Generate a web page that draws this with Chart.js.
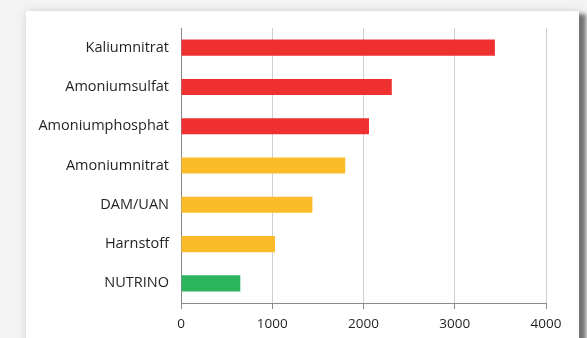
<!DOCTYPE html>
<html>
<head>
<meta charset="utf-8">
<script src="https://cdn.jsdelivr.net/npm/chart.js@4/dist/chart.umd.min.js"></script>
<style>
  html, body { margin: 0; padding: 0; }
  body { width: 587px; height: 338px; background: #f3f3f3; position: relative; overflow: hidden; }
  #card {
    position: absolute; left: 26px; top: 11px; width: 553px; height: 340px;
    background: #fff;
    box-shadow: 0 0 8px rgba(0,0,0,0.13), 7px 3px 4px rgba(0,0,0,0.5);
  }
  #chart { position: absolute; left: 0; top: 0; }
</style>
</head>
<body>
<div id="card"></div>
<canvas id="chart" width="587" height="338"></canvas>
<script>
const products = ['Kaliumnitrat', 'Amoniumsulfat', 'Amoniumphosphat', 'Amoniumnitrat', 'DAM/UAN', 'Harnstoff', 'NUTRINO']
const values = [3440, 2310, 2060, 1800, 1440, 1030, 650]
const barColors = ['#ef3030', '#ef3030', '#ef3030', '#fcbb28', '#fcbb28', '#fcbb28', '#2db45f']
const xTicks = [0, 1000, 2000, 3000, 4000]

const catFont = { family: '"Open Sans", sans-serif', size: 14.5 }
const tickFont = { family: '"Open Sans", sans-serif', size: 13.5 }

new Chart(document.getElementById('chart'), {
  type: 'bar',
  data: {
    labels: products,
    datasets: [{ data: values, backgroundColor: barColors, barPercentage: 0.41, categoryPercentage: 1 }],
  },
  options: {
    indexAxis: 'y',
    responsive: false,
    animation: false,
    devicePixelRatio: 1,
    layout: { padding: { left: 0, right: 41, top: 28, bottom: 0 } },
    plugins: { legend: { display: false }, tooltip: { enabled: false } },
    scales: {
      x: {
        min: 0, max: 4000,
        afterBuildTicks: s => { s.ticks = xTicks.map(v => ({ value: v })) },
        afterFit: s => { s.height = 35 },
        grid: { color: '#cfcfcf', lineWidth: 1, drawTicks: true, tickLength: 6, tickColor: '#8a8a8a' },
        border: { color: '#8a8a8a', width: 1 },
        ticks: { color: '#231f20', font: tickFont, padding: 7, maxRotation: 0, callback: v => String(v) },
      },
      y: {
        afterFit: s => { s.width = 181 },
        grid: { display: false, drawTicks: false },
        border: { color: '#8a8a8a', width: 1 },
        ticks: { color: '#231f20', font: catFont, padding: 12, autoSkip: false },
      },
    },
  },
})
</script>
</body>
</html>
